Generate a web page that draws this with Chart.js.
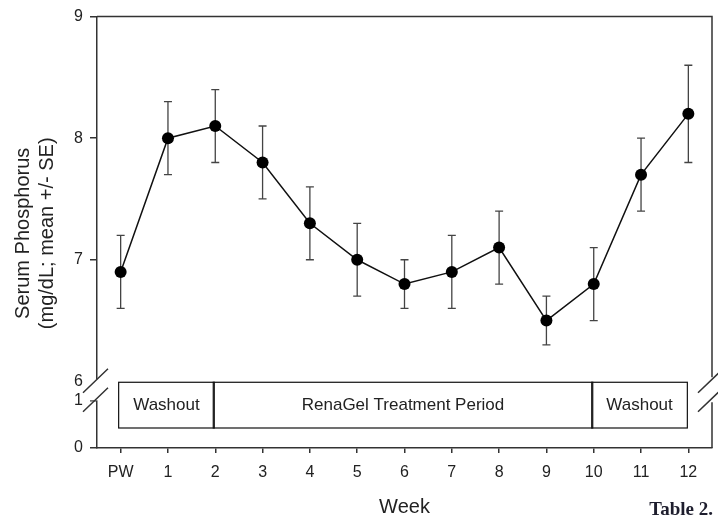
<!DOCTYPE html>
<html>
<head>
<meta charset="utf-8">
<script src="https://cdn.jsdelivr.net/npm/chart.js@4.4.0/dist/chart.umd.min.js"></script>
<style>
    html, body { margin: 0; padding: 0; background: #fff; }
    #wrap { width: 718px; height: 517px; }
</style>
</head>
<body>
<div id="wrap"><canvas id="chart"></canvas></div>
<script>
// Weeks on the x axis
const weeks = ['PW', '1', '2', '3', '4', '5', '6', '7', '8', '9', '10', '11', '12'];
// Mean serum phosphorus (mg/dL) and its standard error
const meanPhos = [6.9, 8.0, 8.1, 7.8, 7.3, 7.0, 6.8, 6.9, 7.1, 6.5, 6.8, 7.7, 8.2];
const sePhos = [0.3, 0.3, 0.3, 0.3, 0.3, 0.3, 0.2, 0.3, 0.3, 0.2, 0.3, 0.3, 0.4];
// Tick labels: upper part of the broken axis, and the lower stub
const upperTicks = [6, 7, 8, 9];
const lowerTicks = [0, 1];
// Study periods (start / end given as week index)
const periodLabels = ['Washout', 'RenaGel Treatment Period', 'Washout'];
const periodStart = [0, 2, 10];
const periodEnd = [2, 10, 12];

const INK = '#222';
const AXIS = '#333';
const FONT = 'Arial, "Liberation Sans", Helvetica, sans-serif';

// Error bars (mean +/- SE), drawn under the points
const errorBars = {
    id: 'errorBars',
    beforeDatasetsDraw(chart) {
        const { ctx } = chart;
        const y = chart.scales.y;
        const meta = chart.getDatasetMeta(0);
        ctx.save();
        ctx.strokeStyle = '#444';
        ctx.lineWidth = 1.3;
        meta.data.forEach((pt, i) => {
            const top = y.getPixelForValue(meanPhos[i] + sePhos[i]);
            const bot = y.getPixelForValue(meanPhos[i] - sePhos[i]);
            ctx.beginPath();
            ctx.moveTo(pt.x, top); ctx.lineTo(pt.x, bot);
            ctx.moveTo(pt.x - 4, top); ctx.lineTo(pt.x + 4, top);
            ctx.moveTo(pt.x - 4, bot); ctx.lineTo(pt.x + 4, bot);
            ctx.stroke();
        });
        ctx.restore();
    }
};

// Period boxes in the lower stub, frame, axis breaks, y title and caption
const decorations = {
    id: 'decorations',
    afterDraw(chart) {
        const { ctx, chartArea: a } = chart;
        const x = chart.scales.x;
        const y2 = chart.scales.y2;
        const joint = chart.scales.y.bottom;
        ctx.save();

        // period boxes
        const boxTop = y2.getPixelForValue(1.38);
        const boxBot = y2.getPixelForValue(0.42);
        ctx.strokeStyle = '#111';
        ctx.lineWidth = 1.2;
        ctx.fillStyle = INK;
        ctx.font = '17px ' + FONT;
        ctx.textAlign = 'center';
        ctx.textBaseline = 'middle';
        periodLabels.forEach((label, i) => {
            const x0 = x.getPixelForValue(periodStart[i]) - 2;
            const x1 = x.getPixelForValue(periodEnd[i]) - 1;
            ctx.strokeRect(x0, boxTop, x1 - x0, boxBot - boxTop);
            ctx.fillText(label, (x0 + x1) / 2, (boxTop + boxBot) / 2);
        });

        // top and right frame
        ctx.strokeStyle = AXIS;
        ctx.lineWidth = 1.5;
        ctx.beginPath();
        ctx.moveTo(a.left, a.top); ctx.lineTo(a.right, a.top);
        ctx.lineTo(a.right, joint - 4);
        ctx.moveTo(a.right, joint + 21); ctx.lineTo(a.right, a.bottom);
        ctx.stroke();

        // break in the left axis
        ctx.fillStyle = '#fff';
        ctx.fillRect(a.left - 9, joint - 2, 14, 21);
        ctx.strokeStyle = AXIS;
        [a.left, a.right].forEach(bx => {
            ctx.beginPath();
            ctx.moveTo(bx - 14, joint + 11.5); ctx.lineTo(bx + 11, joint - 12.5);
            ctx.moveTo(bx - 14, joint + 30.5); ctx.lineTo(bx + 11, joint + 6.5);
            ctx.stroke();
        });

        // y axis title, two lines
        ctx.fillStyle = INK;
        ctx.font = '20px ' + FONT;
        ctx.textBaseline = 'alphabetic';
        const cy = (a.top + a.bottom) / 2 + 1;
        [['Serum Phosphorus', 29], ['(mg/dL; mean +/- SE)', 53]].forEach(([t, bx]) => {
            ctx.save();
            ctx.translate(bx, cy);
            ctx.rotate(-Math.PI / 2);
            ctx.fillText(t, 0, 0);
            ctx.restore();
        });

        // caption
        ctx.fillStyle = '#1e1e2e';
        ctx.font = 'bold 19px "Liberation Serif", "Times New Roman", serif';
        ctx.textAlign = 'right';
        ctx.fillText('Table 2.', 713, 515);
        ctx.restore();
    }
};

const axisGrid = { drawOnChartArea: false, color: AXIS, lineWidth: 1.5, tickLength: 7 };
const axisBorder = { color: AXIS, width: 1.5 };
const tickFont = { family: FONT, size: 16 };

new Chart(document.getElementById('chart'), {
    type: 'line',
    data: {
        labels: weeks,
        datasets: [{
            data: meanPhos,
            yAxisID: 'y',
            borderColor: '#111',
            borderWidth: 1.5,
            pointRadius: 6,
            pointBackgroundColor: '#000',
            pointBorderWidth: 0,
            tension: 0,
            fill: false
        }]
    },
    options: {
        responsive: true,
        maintainAspectRatio: false,
        animation: false,
        layout: { padding: { top: 14, right: 6, left: 0, bottom: 0 } },
        plugins: {
            legend: { display: false },
            tooltip: { enabled: false }
        },
        scales: {
            x: {
                offset: true,
                grid: { ...axisGrid, tickLength: 5 },
                border: axisBorder,
                ticks: { padding: 10, font: tickFont, color: INK },
                title: {
                    display: true,
                    text: 'Week',
                    color: INK,
                    font: { family: FONT, size: 20, lineHeight: 1 },
                    padding: 0
                },
                afterFit: (s) => { s.height = 69; }
            },
            y: {
                stack: 'phos',
                stackWeight: 5.47,
                weight: 1,
                min: 6,
                max: 9,
                afterBuildTicks: (s) => { s.ticks = upperTicks.map(v => ({ value: v })); },
                grid: axisGrid,
                border: axisBorder,
                ticks: { padding: 7, font: tickFont, color: INK },
                afterFit: (s) => { s.width = 97; }
            },
            y2: {
                type: 'linear',
                position: 'left',
                stack: 'phos',
                stackWeight: 1,
                weight: 0,
                min: 0,
                max: 1.4,
                afterBuildTicks: (s) => { s.ticks = lowerTicks.map(v => ({ value: v })); },
                grid: axisGrid,
                border: axisBorder,
                ticks: { padding: 7, font: tickFont, color: INK },
                afterFit: (s) => { s.width = 97; }
            }
        }
    },
    plugins: [errorBars, decorations]
});
</script>
</body>
</html>
